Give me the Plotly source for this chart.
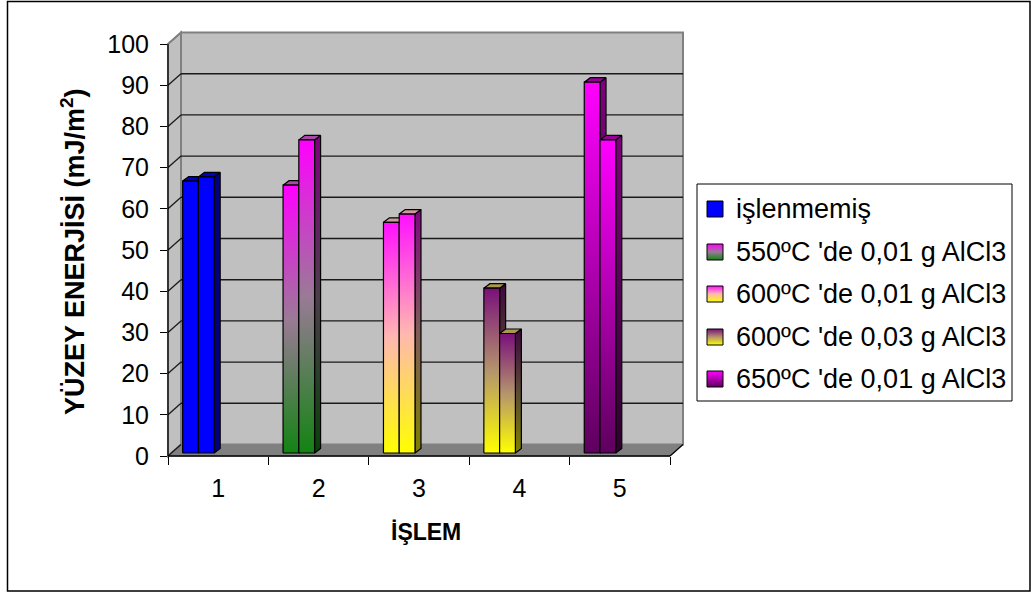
import plotly.graph_objects as go

# ---- data -----------------------------------------------------------------
categories = [1, 2, 3, 4, 5]
tick_labels = ["1", "2", "3", "4", "5"]
legend_labels = [
    "işlenmemiş",
    "550ºC 'de 0,01 g AlCl3",
    "600ºC 'de 0,01 g AlCl3",
    "600ºC 'de 0,03 g AlCl3",
    "650ºC 'de 0,01 g AlCl3",
]
first_values = [66, 65, 56, 40, 90]
second_values = [67, 76, 58, 29, 76]
y_ticks = [0, 10, 20, 30, 40, 50, 60, 70, 80, 90, 100]

# ---- colours (one vertical gradient per category: bottom, middle, top) -----
front_bottom = ["#0000FF", "#138313", "#FFFF00", "#FFFF00", "#5E005E"]
front_middle = ["#0000FF", "#9A7A96", "#FFB8B0", "#B4946C", "#B000B0"]
front_top = ["#0000FF", "#FF00FF", "#FF10FF", "#7A107A", "#FF00FF"]
top_face = ["#0000C0", "#A848A8", "#D09A9A", "#A89A48", "#960096"]

FONT = "Liberation Sans, Arial, sans-serif"
W, H = 1031, 595

# ---- 3-D box geometry (pixels) --------------------------------------------
X0_PX, Y0_PX = 168, 456          # front-left-bottom corner of the box
PX_PER_CAT = 100.4
PX_PER_UNIT = 4.12
DEPTH_PX = (13, 11.5)            # oblique depth of the box
BAR_DEPTH_PX = (6, 4.5)          # oblique depth of one column
BAR_LIFT_PX = 3                  # front plane of the columns inside the box
BAR_OFFSET = 0.146               # first column's left edge inside its category
BAR_WIDTH = 0.157

DX = DEPTH_PX[0] / PX_PER_CAT
DY = DEPTH_PX[1] / PX_PER_UNIT
BDX = BAR_DEPTH_PX[0] / PX_PER_CAT
BDY = BAR_DEPTH_PX[1] / PX_PER_UNIT
BASE = BAR_LIFT_PX / PX_PER_UNIT

n_cat = len(categories)
x_range = [0.5, n_cat + 0.5 + DX]
y_range = [0, 100 + DY]
x_dom = [X0_PX / W, (X0_PX + n_cat * PX_PER_CAT + DEPTH_PX[0]) / W]
y_dom = [1 - Y0_PX / H, 1 - (Y0_PX - 100 * PX_PER_UNIT - DEPTH_PX[1]) / H]


def px(x):
    return x / W


def py(y):
    return 1 - y / H


def dx_px(v):
    """data x -> pixel"""
    return X0_PX + (v - 0.5) * PX_PER_CAT


def dy_px(v):
    """data y -> pixel"""
    return Y0_PX - v * PX_PER_UNIT


def shade(hex_color, k):
    h = hex_color.lstrip("#")
    r, g, b = (int(h[i:i + 2], 16) for i in (0, 2, 4))
    return "#%02X%02X%02X" % (int(r * k), int(g * k), int(b * k))


def ramp(i, k=1.0):
    return [[0, shade(front_bottom[i], k)], [0.5, shade(front_middle[i], k)],
            [1, shade(front_top[i], k)]]


def path_px(points):
    pts = [(px(x), py(y)) for x, y in points]
    return "M " + " L ".join(f"{x:.5f},{y:.5f}" for x, y in pts) + " Z"


fig = go.Figure()
shapes = []

# ---- walls and floor ------------------------------------------------------
xl, xr = 0.5, n_cat + 0.5
back = [(dx_px(xl + DX), dy_px(DY)), (dx_px(xr + DX), dy_px(DY)),
        (dx_px(xr + DX), dy_px(100 + DY)), (dx_px(xl + DX), dy_px(100 + DY))]
left = [(dx_px(xl), dy_px(0)), (dx_px(xl + DX), dy_px(DY)),
        (dx_px(xl + DX), dy_px(100 + DY)), (dx_px(xl), dy_px(100))]
floor = [(dx_px(xl), dy_px(0)), (dx_px(xr), dy_px(0)),
         (dx_px(xr + DX), dy_px(DY)), (dx_px(xl + DX), dy_px(DY))]
shapes.append(dict(type="path", path=path_px(back), xref="paper", yref="paper",
                   fillcolor="#C0C0C0", line=dict(color="#808080", width=2), layer="below"))
shapes.append(dict(type="path", path=path_px(left), xref="paper", yref="paper",
                   fillcolor="#C0C0C0", line=dict(color="#808080", width=2), layer="below"))
shapes.append(dict(type="path", path=path_px(floor), xref="paper", yref="paper",
                   fillcolor="#808080", line=dict(color="#808080", width=1), layer="below"))

# gridlines on back wall and side wall
for v in y_ticks[1:-1]:
    shapes.append(dict(type="line", xref="paper", yref="paper",
                       x0=px(dx_px(xl + DX)), x1=px(dx_px(xr + DX)),
                       y0=py(dy_px(v + DY)), y1=py(dy_px(v + DY)),
                       line=dict(color="#1A1A1A", width=1.4), layer="below"))
for v in y_ticks:
    shapes.append(dict(type="line", xref="paper", yref="paper",
                       x0=px(dx_px(xl)), x1=px(dx_px(xl + DX)),
                       y0=py(dy_px(v)), y1=py(dy_px(v + DY)),
                       line=dict(color="#1A1A1A" if v < 100 else "#808080", width=1.3),
                       layer="below"))

# front edges: value axis and floor edge
shapes.append(dict(type="line", xref="paper", yref="paper",
                   x0=px(dx_px(xl)), x1=px(dx_px(xl)), y0=py(dy_px(0)), y1=py(dy_px(100)),
                   line=dict(color="#000000", width=1.2)))
shapes.append(dict(type="line", xref="paper", yref="paper",
                   x0=px(dx_px(xl)), x1=px(dx_px(xr)), y0=py(dy_px(0)), y1=py(dy_px(0)),
                   line=dict(color="#000000", width=1.5)))
shapes.append(dict(type="line", xref="paper", yref="paper",
                   x0=px(dx_px(xr)), x1=px(dx_px(xr + DX)), y0=py(dy_px(0)), y1=py(dy_px(DY)),
                   line=dict(color="#000000", width=1.2)))


# ---- columns ----------------------------------------------------------------
def add_poly(xs, ys, fill=None, scale=None, axes=("x", "y"), width=1.2):
    kw = dict(x=xs, y=ys, mode="lines", fill="toself",
              line=dict(color="#000000", width=width),
              hoverinfo="skip", showlegend=False, xaxis=axes[0], yaxis=axes[1])
    if scale:
        kw["fillgradient"] = dict(type="vertical", colorscale=scale)
        kw["fillcolor"] = scale[-1][1]
    else:
        kw["fillcolor"] = fill
    fig.add_trace(go.Scatter(**kw))


for i, cat in enumerate(categories):
    for s, vals in enumerate((first_values, second_values)):
        v = vals[i]
        L = cat - 0.5 + BAR_OFFSET + s * BAR_WIDTH
        R = L + BAR_WIDTH
        b, t = BASE, BASE + v
        # right side face
        add_poly([R, R + BDX, R + BDX, R, R], [b, b + BDY, t + BDY, t, b],
                 scale=ramp(i, 0.5))
        # top face
        add_poly([L, R, R + BDX, L + BDX, L], [t, t, t + BDY, t + BDY, t], fill=top_face[i])
        # front face
        add_poly([L, R, R, L, L], [b, b, t, t, b], scale=ramp(i))

# ---- legend -----------------------------------------------------------------
LEG_BOX = (697, 184, 1012, 401)
LEG_ROWS = [209, 252, 294, 337, 379]
SW = 16
shapes.append(dict(type="rect", xref="paper", yref="paper",
                   x0=px(LEG_BOX[0]), x1=px(LEG_BOX[2]), y0=py(LEG_BOX[1]), y1=py(LEG_BOX[3]),
                   fillcolor="#FFFFFF", line=dict(color="#000000", width=1), layer="below"))
annotations = []
for k, (lab, yc) in enumerate(zip(legend_labels, LEG_ROWS)):
    x0, y_top = 707, H - (yc - SW / 2)       # overlay axis measures up from the bottom
    add_poly([x0, x0 + SW, x0 + SW, x0, x0],
             [y_top - SW, y_top - SW, y_top, y_top, y_top - SW],
             scale=ramp(k), axes=("x2", "y2"), width=1)
    annotations.append(dict(x=px(734), y=py(yc), xref="paper", yref="paper",
                            text=lab, showarrow=False, xanchor="left", yanchor="middle",
                            font=dict(family=FONT, size=27, color="#000000")))

# axis titles
annotations.append(dict(x=px(73), y=py(252), xref="paper", yref="paper",
                        text="<b>YÜZEY ENERJİSİ (mJ/m<sup>2</sup>)</b>", textangle=-90,
                        showarrow=False, xanchor="center", yanchor="middle",
                        font=dict(family=FONT, size=27, color="#000000")))
annotations.append(dict(x=px(426), y=py(532), xref="paper", yref="paper",
                        text="<b>İŞLEM</b>", showarrow=False,
                        xanchor="center", yanchor="middle",
                        font=dict(family=FONT, size=23, color="#000000")))

# chart border
shapes.append(dict(type="rect", xref="paper", yref="paper",
                   x0=px(7.5), x1=px(1030), y0=py(1.5), y1=py(591),
                   line=dict(color="#000000", width=1.5), fillcolor="rgba(0,0,0,0)"))

fig.update_layout(
    width=W, height=H, autosize=False,
    margin=dict(l=0, r=0, t=0, b=0, pad=0, autoexpand=False),
    paper_bgcolor="#FFFFFF",
    plot_bgcolor="rgba(0,0,0,0)",
    showlegend=False,
    shapes=shapes,
    annotations=annotations,
    xaxis=dict(domain=x_dom, range=x_range, showgrid=False, zeroline=False,
               showline=False, automargin=False, tickmode="array", tickvals=categories,
               ticktext=tick_labels, ticks="outside", ticklen=10,
               tickcolor="rgba(0,0,0,0)",
               tickfont=dict(family=FONT, size=25, color="#000000"),
               minor=dict(tickmode="array",
                          tickvals=[c - 0.5 for c in categories] + [categories[-1] + 0.5],
                          ticks="outside", ticklen=8, tickcolor="#000000",
                          tickwidth=1, showgrid=False),
               fixedrange=True),
    yaxis=dict(domain=y_dom, range=y_range, showgrid=False, zeroline=False,
               showline=False, automargin=False, tickmode="array", tickvals=y_ticks,
               ticks="outside", ticklen=7, tickcolor="#000000", tickwidth=1,
               ticklabelstandoff=6,
               tickfont=dict(family=FONT, size=25, color="#000000"),
               fixedrange=True),
    xaxis2=dict(domain=[0, 1], range=[0, W], visible=False, anchor="y2",
                automargin=False, fixedrange=True),
    yaxis2=dict(domain=[0, 1], range=[0, H], visible=False, anchor="x2",
                automargin=False, fixedrange=True),
)

fig.write_html("out.html")
